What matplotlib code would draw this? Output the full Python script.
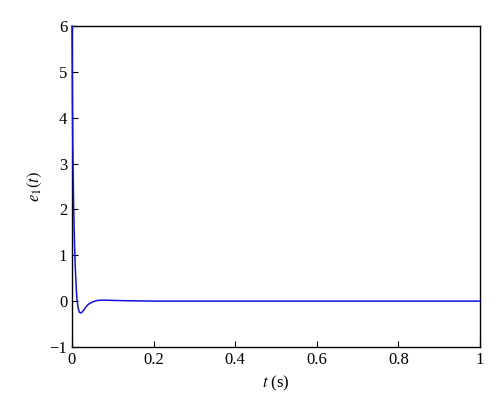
import matplotlib
matplotlib.use("Agg")
import matplotlib.pyplot as plt

# error signal e1(t)
t = [0, 0.001, 0.002, 0.003, 0.004, 0.006, 0.008, 0.010, 0.012, 0.015, 0.018,
     0.021, 0.025, 0.030, 0.035, 0.040, 0.050, 0.060, 0.070, 0.080, 0.100,
     0.120, 0.150, 0.200, 0.300, 0.500, 1.000]
e1 = [6.0, 4.4, 3.4, 2.7, 2.1, 1.3, 0.75, 0.35, 0.05, -0.15, -0.24,
      -0.26, -0.24, -0.18, -0.12, -0.07, -0.02, 0.01, 0.02, 0.02, 0.015,
      0.01, 0.005, 0.0, 0.0, 0.0, 0.0]

xticks = [0, 0.2, 0.4, 0.6, 0.8, 1]
xlabels = ["0", "0.2", "0.4", "0.6", "0.8", "1"]
yticks = [-1, 0, 1, 2, 3, 4, 5, 6]
ylabels = ["\u22121", "0", "1", "2", "3", "4", "5", "6"]

plt.rcParams["font.family"] = "Liberation Serif"
plt.rcParams["mathtext.fontset"] = "stix"

fig = plt.figure(figsize=(5, 4.13), dpi=100)
ax = fig.add_axes([0.144, 0.16, 0.816, 0.777])
# drawn above the spines, like the original
ax.plot(t, e1, color="#1010e0", lw=1.1, zorder=3, clip_on=False)

ax.set_xlim(0, 1)
ax.set_ylim(-1, 6)
ax.set_xticks(xticks)
ax.set_xticklabels(xlabels)
ax.set_yticks(yticks)
ax.set_yticklabels(ylabels)
ax.tick_params(direction="in", length=4, labelsize=12, top=False, right=False)
for s in ax.spines.values():
    s.set_linewidth(1.0)
    s.set_zorder(2)

ax.set_xlabel("$t$ (s)", fontsize=12)
ax.set_ylabel("$e_1(t)$", fontsize=12)

fig.savefig("out.png", dpi=100)
